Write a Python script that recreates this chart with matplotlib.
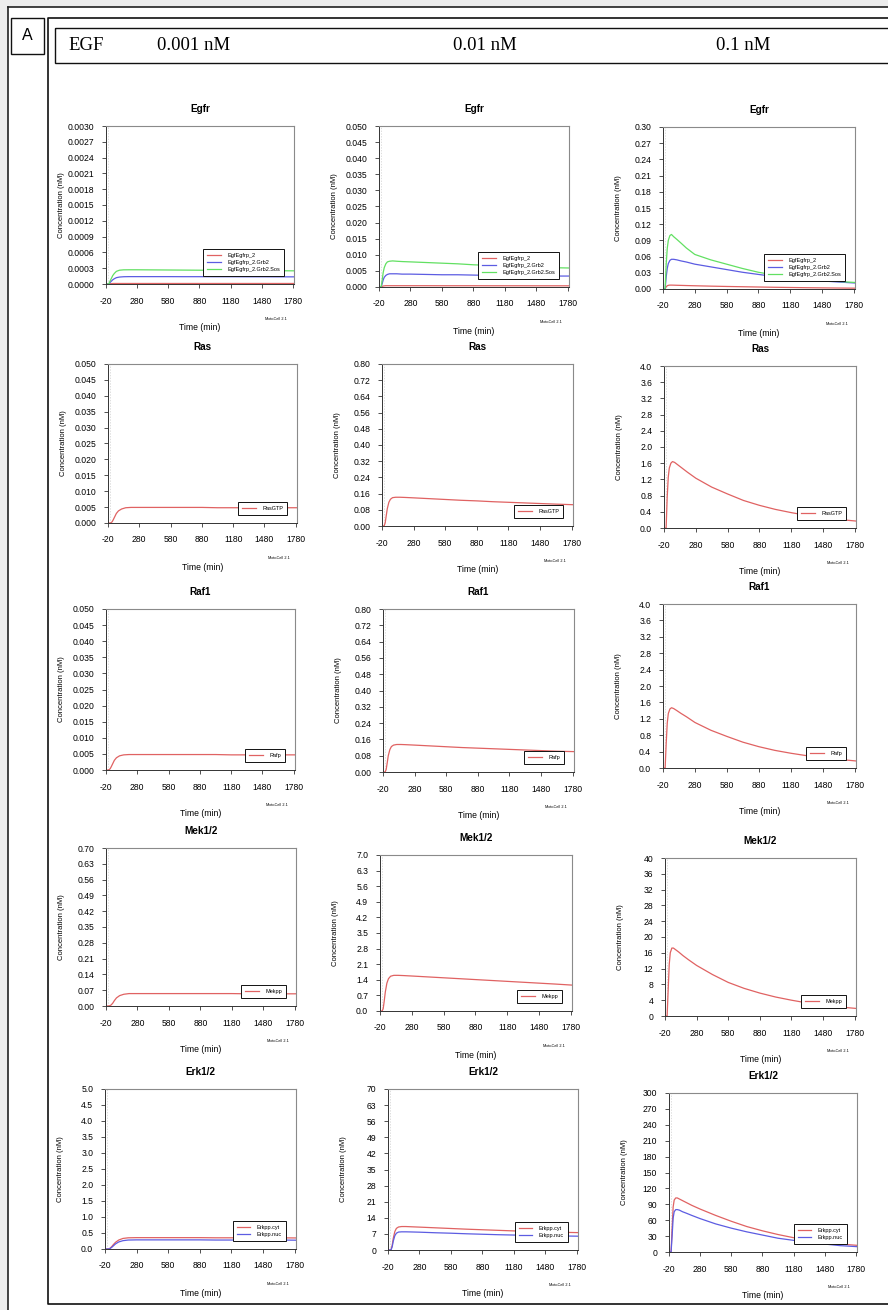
import matplotlib
matplotlib.use('Agg')
import matplotlib.pyplot as plt
import numpy as np
from matplotlib.patches import Rectangle

plt.rcParams['font.family'] = ['Liberation Sans', 'DejaVu Sans']
plt.rcParams['axes.unicode_minus'] = False

W, H = 888, 1310

time_min = [-20, 0, 10, 20, 30, 45, 60, 80, 110, 150, 200, 280, 430, 580, 730,
            880, 1030, 1180, 1330, 1480, 1630, 1800]
x_ticks = [-20, 280, 580, 880, 1180, 1480, 1780]
egf_doses = ['0.001 nM', '0.01 nM', '0.1 nM']
species = ['Egfr', 'Ras', 'Raf1', 'Mek1/2', 'Erk1/2']
y_max = [[0.003, 0.05, 0.3], [0.05, 0.8, 4.0], [0.05, 0.8, 4.0],
         [0.7, 7.0, 40], [5.0, 70, 300]]
y_decimals = [[4, 3, 2], [3, 2, 1], [3, 2, 1], [2, 1, 0], [1, 0, 0]]

# Egfr complexes
egfr_p2_001 = [0, 0, 0.000002, 0.000005, 0.000007, 0.000009, 0.00001, 0.00001, 0.00001, 0.00001, 0.00001,
               0.00001, 0.00001, 0.00001, 0.00001, 0.00001, 0.00001, 0.00001, 0.00001, 0.00001, 0.00001, 0.00001]
egfr_grb2_001 = [0, 0, 0.000008, 0.00003, 0.00005, 0.00008, 0.0001, 0.00012, 0.000132, 0.000138, 0.00014,
                 0.00014, 0.00014, 0.00014, 0.000139, 0.000139, 0.000138, 0.000138, 0.000137, 0.000137, 0.000136, 0.000136]
egfr_sos_001 = [0, 0, 0.000015, 0.00006, 0.0001, 0.00016, 0.0002, 0.00024, 0.000262, 0.000269, 0.00027,
                0.00027, 0.000268, 0.000266, 0.000264, 0.000262, 0.00026, 0.000258, 0.000256, 0.000254, 0.000252, 0.00025]
egfr_p2_01 = [0, 0, 0.0002, 0.0003, 0.00035, 0.0004, 0.0004, 0.0004, 0.0004, 0.0004, 0.0004,
              0.0004, 0.0004, 0.00039, 0.00039, 0.00039, 0.00038, 0.00038, 0.00038, 0.00037, 0.00037, 0.00037]
egfr_grb2_01 = [0, 0, 0.001, 0.0022, 0.003, 0.0036, 0.0039, 0.0041, 0.0041, 0.0041, 0.004,
                0.004, 0.0039, 0.0038, 0.0038, 0.0037, 0.0036, 0.0036, 0.0035, 0.0035, 0.0034, 0.0034]
egfr_sos_01 = [0, 0, 0.002, 0.0045, 0.006, 0.0072, 0.0078, 0.008, 0.0081, 0.008, 0.0079,
               0.0078, 0.0076, 0.0074, 0.0072, 0.0069, 0.0067, 0.0065, 0.0063, 0.0062, 0.006, 0.0059]
egfr_p2_1 = [0, 0, 0.004, 0.006, 0.0068, 0.0072, 0.0072, 0.0071, 0.0069, 0.0067, 0.0064,
             0.006, 0.0053, 0.0047, 0.0042, 0.0037, 0.0032, 0.0028, 0.0024, 0.0021, 0.0018, 0.0015]
egfr_grb2_1 = [0, 0, 0.022, 0.038, 0.047, 0.053, 0.055, 0.055, 0.054, 0.052, 0.05,
               0.046, 0.041, 0.036, 0.031, 0.027, 0.023, 0.02, 0.018, 0.015, 0.013, 0.011]
egfr_sos_1 = [0, 0, 0.045, 0.075, 0.09, 0.099, 0.101, 0.097, 0.092, 0.085, 0.076,
              0.064, 0.054, 0.046, 0.038, 0.031, 0.026, 0.022, 0.019, 0.016, 0.014, 0.012]

# RasGTP
ras_001 = [0, 0, 0.0001, 0.0004, 0.001, 0.002, 0.003, 0.0038, 0.0044, 0.0048, 0.0049,
           0.0049, 0.0049, 0.0049, 0.0049, 0.0049, 0.0048, 0.0048, 0.0048, 0.0048, 0.0048, 0.0048]
ras_01 = [0, 0, 0.015, 0.05, 0.085, 0.117, 0.132, 0.14, 0.142, 0.142, 0.141,
          0.139, 0.135, 0.131, 0.127, 0.124, 0.12, 0.117, 0.114, 0.111, 0.108, 0.105]
ras_1 = [0, 0, 0.75, 1.25, 1.48, 1.6, 1.64, 1.62, 1.56, 1.48, 1.38,
         1.23, 1.01, 0.84, 0.68, 0.56, 0.46, 0.38, 0.31, 0.25, 0.21, 0.17]

# Rafp
raf_001 = [0, 0, 0.0001, 0.0004, 0.001, 0.002, 0.003, 0.0038, 0.0044, 0.0047, 0.0048,
           0.0048, 0.0048, 0.0048, 0.0048, 0.0048, 0.0048, 0.0047, 0.0047, 0.0047, 0.0047, 0.0047]
raf_01 = [0, 0, 0.012, 0.045, 0.08, 0.11, 0.125, 0.132, 0.135, 0.135, 0.134,
          0.132, 0.128, 0.124, 0.12, 0.117, 0.114, 0.111, 0.108, 0.105, 0.102, 0.1]
raf_1 = [0, 0, 0.6, 1.1, 1.33, 1.44, 1.47, 1.45, 1.4, 1.33, 1.25,
         1.11, 0.92, 0.77, 0.63, 0.52, 0.43, 0.36, 0.3, 0.25, 0.21, 0.17]

# Mekpp
mek_001 = [0, 0, 0.0005, 0.002, 0.005, 0.013, 0.024, 0.036, 0.046, 0.052, 0.055,
           0.055, 0.055, 0.055, 0.055, 0.055, 0.055, 0.055, 0.054, 0.054, 0.054, 0.054]
mek_01 = [0, 0, 0.1, 0.45, 0.85, 1.25, 1.45, 1.56, 1.6, 1.6, 1.59,
          1.57, 1.53, 1.49, 1.45, 1.41, 1.37, 1.33, 1.29, 1.25, 1.21, 1.16]
mek_1 = [0, 0, 6.5, 13.0, 16.0, 17.2, 17.2, 16.8, 16.2, 15.3, 14.3,
         12.8, 10.5, 8.5, 7.0, 5.8, 4.8, 4.0, 3.3, 2.8, 2.3, 1.9]

# Erkpp, cytoplasm and nucleus
erk_cyt_001 = [0, 0, 0.002, 0.01, 0.03, 0.08, 0.14, 0.21, 0.28, 0.33, 0.35,
               0.355, 0.355, 0.355, 0.355, 0.355, 0.35, 0.35, 0.35, 0.35, 0.35, 0.345]
erk_nuc_001 = [0, 0, 0.001, 0.006, 0.02, 0.055, 0.1, 0.16, 0.22, 0.26, 0.28,
               0.285, 0.285, 0.285, 0.285, 0.285, 0.28, 0.28, 0.28, 0.28, 0.28, 0.275]
erk_cyt_01 = [0, 0, 0.3, 2.0, 5.0, 8.0, 9.4, 10.0, 10.2, 10.2, 10.1,
              9.95, 9.65, 9.35, 9.05, 8.8, 8.55, 8.3, 8.1, 7.9, 7.7, 7.55]
erk_nuc_01 = [0, 0, 0.2, 1.4, 3.8, 6.2, 7.3, 7.8, 7.9, 7.9, 7.85,
              7.75, 7.5, 7.3, 7.05, 6.85, 6.65, 6.5, 6.35, 6.2, 6.1, 6.0]
erk_cyt_1 = [0, 0, 45, 85, 98, 102, 102, 100, 97, 93, 88,
             81, 69, 58, 48, 40, 33, 27, 22, 18, 15, 12.5]
erk_nuc_1 = [0, 0, 30, 64, 76, 80, 80, 79, 76, 73, 69,
             63, 53, 45, 38, 32, 26, 22, 18, 15, 12, 10]

red, blue, green = '#e06262', '#5c5ce2', '#62e062'

series = [
    [[('EgfEgfrp_2', egfr_p2_001, red), ('EgfEgfrp_2.Grb2', egfr_grb2_001, blue),
      ('EgfEgfrp_2.Grb2.Sos', egfr_sos_001, green)],
     [('EgfEgfrp_2', egfr_p2_01, red), ('EgfEgfrp_2.Grb2', egfr_grb2_01, blue),
      ('EgfEgfrp_2.Grb2.Sos', egfr_sos_01, green)],
     [('EgfEgfrp_2', egfr_p2_1, red), ('EgfEgfrp_2.Grb2', egfr_grb2_1, blue),
      ('EgfEgfrp_2.Grb2.Sos', egfr_sos_1, green)]],
    [[('RasGTP', ras_001, red)], [('RasGTP', ras_01, red)], [('RasGTP', ras_1, red)]],
    [[('Rafp', raf_001, red)], [('Rafp', raf_01, red)], [('Rafp', raf_1, red)]],
    [[('Mekpp', mek_001, red)], [('Mekpp', mek_01, red)], [('Mekpp', mek_1, red)]],
    [[('Erkpp.cyt', erk_cyt_001, red), ('Erkpp.nuc', erk_nuc_001, blue)],
     [('Erkpp.cyt', erk_cyt_01, red), ('Erkpp.nuc', erk_nuc_01, blue)],
     [('Erkpp.cyt', erk_cyt_1, red), ('Erkpp.nuc', erk_nuc_1, blue)]],
]

# axes boxes in pixels: left, top, right, bottom
panel_boxes = [
    [(106, 126, 294, 284), (379, 126, 569, 287), (663, 127, 855, 289)],
    [(108, 364, 297, 523), (382, 364, 573, 526), (664, 366, 856, 528)],
    [(106, 609, 295, 770), (383, 609, 574, 772), (663, 604, 856, 768)],
    [(106, 848, 296, 1006), (380, 855, 572, 1011), (665, 858, 856, 1016)],
    [(105, 1089, 296, 1249), (388, 1089, 578, 1250), (669, 1093, 857, 1252)],
]

fig = plt.figure(figsize=(W / 100, H / 100), dpi=100)
bg = fig.add_axes([0, 0, 1, 1])
bg.set_xlim(0, W)
bg.set_ylim(H, 0)
bg.axis('off')

# frames around the figure
bg.add_patch(Rectangle((0, 0), W, 7, color='#ededed', lw=0))
bg.add_patch(Rectangle((0, 0), 8, H, color='#ededed', lw=0))
bg.plot([8, W], [7, 7], color='#222222', lw=1.2)
bg.plot([8, 8], [7, H], color='#222222', lw=1.2)
bg.add_patch(Rectangle((11, 18), 33, 36, fill=False, ec='#111111', lw=1.0))
bg.text(27.5, 36, 'A', ha='center', va='center', fontsize=11.5)
bg.plot([W + 5, 48, 48, W + 5], [18, 18, 1304, 1304], color='#111111', lw=1.2, clip_on=False)
bg.add_patch(Rectangle((55, 28), W, 35, fill=False, ec='#111111', lw=1.0))
bg.text(68, 46, 'EGF', ha='left', va='center', fontsize=13.5, family='Liberation Serif')
for x, dose in zip([157, 453, 716], egf_doses):
    bg.text(x, 46, dose, ha='left', va='center', fontsize=13.5, family='Liberation Serif')


def draw_panel(row, col):
    left, top, right, bottom = panel_boxes[row][col]
    ax = fig.add_axes([left / W, 1 - bottom / H, (right - left) / W, (bottom - top) / H])
    ax.set_facecolor('none')
    ymax = y_max[row][col]
    ax.set_xlim(-20, 1792)
    ax.set_ylim(0, ymax)
    ax.axvline(0, color='#d0d0d0', lw=0.5, ls=(0, (2, 2)), zorder=1)
    handles = []
    for label, values, color in series[row][col]:
        h, = ax.plot(time_min, values, color=color, lw=0.9, label=label, zorder=2)
        handles.append(h)

    yt = np.linspace(0, ymax, 11)
    ax.set_yticks(yt)
    ax.set_yticklabels(['{:.{}f}'.format(v, y_decimals[row][col]) for v in yt])
    ax.set_xticks(x_ticks)
    ax.tick_params(direction='out', length=3, width=0.6, color='#333333', labelsize=6.2)
    ax.tick_params(axis='x', pad=6)
    ax.tick_params(axis='y', pad=5.5)
    for side in ['top', 'right']:
        ax.spines[side].set_color('#8a8a8a')
        ax.spines[side].set_linewidth(0.8)
    for side in ['left', 'bottom']:
        ax.spines[side].set_color('#333333')
        ax.spines[side].set_linewidth(0.7)

    w, h = right - left, bottom - top
    leg = ax.legend(handles=handles, loc='lower right', bbox_to_anchor=(1 - 10 / w, 8 / h),
                    borderaxespad=0, fontsize=4, fancybox=False, framealpha=1,
                    edgecolor='#111111', handlelength=2.4, handletextpad=1.2,
                    borderpad=0.7, labelspacing=0.35)
    leg.get_frame().set_linewidth(0.7)

    cx = (left + right) / 2
    bg.text(cx, top - 17, species[row], ha='center', va='center', fontsize=7.2, fontweight='bold')
    bg.text(cx, bottom + 44, 'Time (min)', ha='center', va='center', fontsize=6.2)
    bg.text(left - 45, (top + bottom) / 2, 'Concentration (nM)', ha='center', va='center',
            rotation=90, fontsize=5.5)
    bg.text(right - 7, bottom + 35, 'MotoCell 2.1', ha='right', va='center', fontsize=2.8)


for r in range(5):
    for c in range(3):
        draw_panel(r, c)

fig.savefig('out.png', dpi=100)
